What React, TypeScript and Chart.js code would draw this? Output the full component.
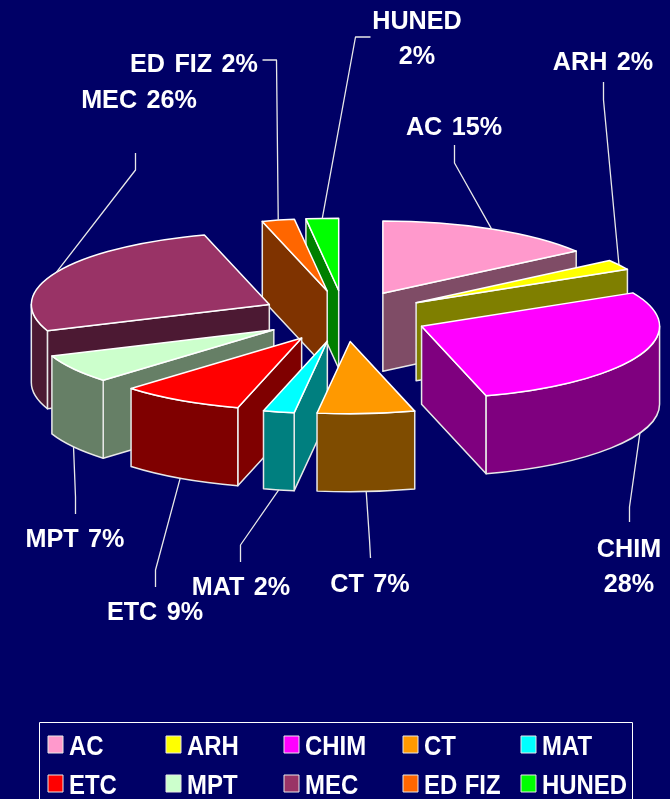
import React, { useEffect, useRef } from "react";
import { Chart, registerables } from "chart.js";

Chart.register(...registerables);

const categories = ["AC", "ARH", "CHIM", "CT", "MAT", "ETC", "MPT", "MEC", "ED FIZ", "HUNED"];
// percentages printed on the callouts
const labelledShares = [15, 2, 28, 7, 2, 9, 7, 26, 2, 2];
const drawnShares = [15.1, 2.3, 28.25, 6.6, 2.1, 8.4, 6.4, 26.5, 2.2, 2.2];
const sliceColors = ["#FF99CC", "#FFFF00", "#FF00FF", "#FF9900", "#00FFFF", "#FF0000", "#CCFFCC", "#993366", "#FF6600", "#00FF00"];

// Style / layout (not data)
const BG = "#000066";
const TILT = 0.304;
const DEPTH = 78;
const RADIUS = 238;
const EXPLODE = 84;
const FONT = '"Liberation Sans", Arial, sans-serif';

// label block: wrap flag, centre x, baselines, and the elbow/end of each leader line
const calloutLayout = [
  { wrap: false, x: 454, y: [135], leader: [[454, 163], [454, 145]] },
  { wrap: false, x: 603, y: [70], leader: [[603, 100], [603, 82]] },
  { wrap: true, x: 629, y: [557, 592], leader: [[629, 507], [629, 522]] },
  { wrap: false, x: 370, y: [592], leader: [[369, 540], [370, 558]] },
  { wrap: false, x: 241, y: [595], leader: [[240, 545], [240, 562]] },
  { wrap: false, x: 155, y: [620], leader: [[155, 570], [155, 587]] },
  { wrap: false, x: 75, y: [547], leader: [[75, 497], [75, 514]] },
  { wrap: false, x: 139, y: [108], leader: [[135, 170], [135, 153]] },
  { wrap: false, x: 194, y: [72], leader: [[276, 60], [262, 60]] },
  { wrap: true, x: 417, y: [29, 64], leader: [[355, 37], [370, 37]] },
];

const legendBox = { left: 39.5, top: 722.5, right: 632.5, bottom: 820 };
const legendCols = [48, 166, 284, 403, 521];
const legendRows = [736, 775];

function halfColor(hex: string) {
  const n = parseInt(hex.slice(1), 16);
  const r = (n >> 16) >> 1;
  const g = ((n >> 8) & 255) >> 1;
  const b = (n & 255) >> 1;
  return `rgb(${r},${g},${b})`;
}

const pie3d = {
  id: "pie3d",
  beforeDatasetsDraw(chart: any) {
    const ctx: any = chart.ctx;
    const meta = chart.getDatasetMeta(0);
    const slices = meta.data.map((arc: any, i: number) => {
      const p = arc.getProps(["x", "y", "startAngle", "endAngle", "outerRadius"], true);
      const mid = (p.startAngle + p.endAngle) / 2;
      const off = arc.options.offset;
      return {
        i,
        a: p.startAngle,
        b: p.endAngle,
        r: p.outerRadius,
        mid,
        ax: p.x + off * Math.cos(mid),
        ay: p.y + off * Math.sin(mid) * TILT,
        color: arc.options.backgroundColor,
      };
    });

    ctx.save();
    ctx.lineJoin = "round";
    ctx.strokeStyle = "#E8E8E8";

    const order = [...slices].sort((s, t) => Math.sin(s.mid) - Math.sin(t.mid));
    for (const s of order) {
      const wall = halfColor(s.color);
      const radial = (ang: number) => {
        const ex = s.ax + s.r * Math.cos(ang);
        const ey = s.ay + s.r * TILT * Math.sin(ang);
        ctx.beginPath();
        ctx.moveTo(s.ax, s.ay);
        ctx.lineTo(ex, ey);
        ctx.lineTo(ex, ey + DEPTH);
        ctx.lineTo(s.ax, s.ay + DEPTH);
        ctx.closePath();
        ctx.fillStyle = wall;
        ctx.fill();
        ctx.lineWidth = 1.5;
        ctx.stroke();
      };
      if (Math.cos(s.a) < 0) radial(s.a);
      if (Math.cos(s.b) > 0) radial(s.b);

      const from = Math.max(s.a, 0);
      const to = Math.min(s.b, Math.PI);
      if (to > from) {
        ctx.beginPath();
        ctx.ellipse(s.ax, s.ay, s.r, s.r * TILT, 0, from, to);
        ctx.ellipse(s.ax, s.ay + DEPTH, s.r, s.r * TILT, 0, to, from, true);
        ctx.closePath();
        ctx.fillStyle = wall;
        ctx.fill();
        ctx.lineWidth = 1.5;
        ctx.stroke();
      }

      ctx.beginPath();
      ctx.moveTo(s.ax, s.ay);
      ctx.ellipse(s.ax, s.ay, s.r, s.r * TILT, 0, s.a, s.b);
      ctx.closePath();
      ctx.fillStyle = s.color;
      ctx.fill();
      ctx.strokeStyle = "#FFFFFF";
      ctx.lineWidth = 1.5;
      ctx.stroke();
      ctx.strokeStyle = "#E8E8E8";
    }

    // leader lines and callouts
    ctx.textBaseline = "alphabetic";
    slices.forEach((s: any) => {
      const c = calloutLayout[s.i];
      const front = Math.sin(s.mid) > 0;
      const px = s.ax + s.r * Math.cos(s.mid);
      const py = s.ay + s.r * TILT * Math.sin(s.mid) + (front ? DEPTH : 0);
      ctx.beginPath();
      ctx.moveTo(px, py);
      c.leader.forEach(([x, y]) => ctx.lineTo(x + 0.5, y));
      ctx.strokeStyle = "#E8E8E8";
      ctx.lineWidth = 1.3;
      ctx.stroke();
      const name = categories[s.i];
      const pct = `${labelledShares[s.i]}%`;
      const lines = c.wrap ? [name, pct] : [`${name} ${pct}`];
      lines.forEach((t, k) => {
        ctx.save();
        ctx.translate(c.x, c.y[k]);
        ctx.scale(0.95, 1);
        ctx.font = `bold 26.5px ${FONT}`;
        ctx.wordSpacing = "2.5px";
        ctx.textAlign = "center";
        ctx.fillStyle = "#FFFFFF";
        ctx.fillText(t, 0, 0);
        ctx.restore();
      });
    });

    // legend
    ctx.strokeStyle = "#FFFFFF";
    ctx.lineWidth = 1;
    ctx.strokeRect(legendBox.left, legendBox.top, legendBox.right - legendBox.left, legendBox.bottom - legendBox.top);
    ctx.textAlign = "left";
    categories.forEach((name, i) => {
      const x = legendCols[i % 5];
      const y = legendRows[Math.floor(i / 5)];
      ctx.fillStyle = sliceColors[i];
      ctx.fillRect(x, y, 15, 17);
      ctx.strokeStyle = "#E8E8E8";
      ctx.strokeRect(x, y, 15, 17);
      ctx.save();
      ctx.translate(x + 21, y + 19);
      ctx.scale(0.87, 1);
      ctx.font = `bold 27.5px ${FONT}`;
      ctx.wordSpacing = "1px";
      ctx.fillStyle = "#FFFFFF";
      ctx.fillText(name, 0, 0);
      ctx.restore();
    });
    ctx.restore();
    return false;
  },
};

export default function App() {
  const ref = useRef<HTMLCanvasElement>(null);
  useEffect(() => {
    document.body.style.margin = "0";
    document.body.style.background = BG;
    const chart = new Chart(ref.current!, {
      type: "pie",
      data: {
        labels: categories,
        datasets: [{ data: drawnShares, backgroundColor: sliceColors, offset: EXPLODE, borderWidth: 0 }],
      },
      options: {
        responsive: false,
        animation: false,
        radius: RADIUS,
        layout: { padding: { left: 19, bottom: 167 } },
        plugins: { legend: { display: false }, tooltip: { enabled: false } },
      } as any,
      plugins: [pie3d],
    });
    return () => chart.destroy();
  }, []);
  return <canvas ref={ref} width={670} height={799} style={{ display: "block", background: BG }} />;
}
